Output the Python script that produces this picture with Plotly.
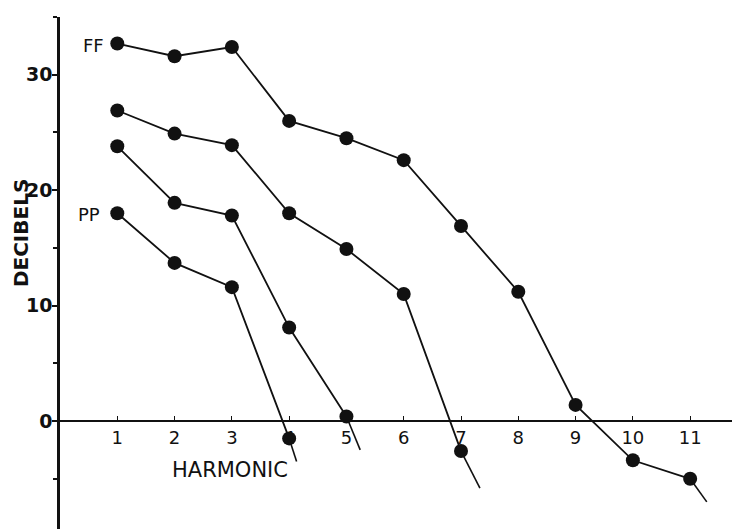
import plotly.graph_objects as go

INK = '#111111'
FONT = 'DejaVu Sans'

# harmonic numbers and decibel levels for the four dynamic levels (FF ... PP)
harmonics = [1, 2, 3, 4, 5, 6, 7, 8, 9, 10, 11]
ff_db = [32.7, 31.6, 32.4, 26.0, 24.5, 22.6, 16.9, 11.2, 1.4, -3.4, -5.0]
f_db = [26.9, 24.9, 23.9, 18.0, 14.9, 11.0, -2.6]
p_db = [23.8, 18.9, 17.8, 8.1, 0.4]
pp_db = [18.0, 13.7, 11.6, -1.5]

# short continuation strokes past the last measured harmonic
tail_x = [11.29, 7.33, 5.24, 4.13]
tail_y = [-7.0, -5.8, -2.5, -3.5]

x_ticks = harmonics
y_ticks = [0, 10, 20, 30]

series = [ff_db, f_db, p_db, pp_db]

fig = go.Figure()
for vals, tx, ty in zip(series, tail_x, tail_y):
    xs = harmonics[:len(vals)]
    fig.add_trace(go.Scatter(
        x=[xs[-1], tx], y=[vals[-1], ty], mode='lines',
        line=dict(color=INK, width=1.6), hoverinfo='skip',
    ))
    fig.add_trace(go.Scatter(
        x=xs, y=vals, mode='lines+markers',
        line=dict(color=INK, width=1.8),
        marker=dict(color=INK, size=14),
    ))

lbl = dict(size=18, color=INK, family=FONT)
fig.add_annotation(x=0.58, y=32.5, text='FF', showarrow=False, font=lbl)
fig.add_annotation(x=0.5, y=17.9, text='PP', showarrow=False, font=lbl)
fig.add_annotation(x=2.97, y=-4.2, text='HARMONIC', showarrow=False,
                   font=dict(size=21, color=INK, family=FONT))
fig.add_annotation(xref='paper', x=-0.057, xanchor='center', y=16.3,
                   text='<b>DECIBELS</b>', showarrow=False, textangle=-90,
                   font=dict(size=20, color=INK, family=FONT))

y_min, y_max = -9.35, 35
# page body keeps its default 8px margin, so the figure is 8px smaller
fig.update_layout(
    width=732, height=521,
    paper_bgcolor='white', plot_bgcolor='white',
    margin=dict(l=52, r=0, t=9, b=0, autoexpand=False),
    showlegend=False,
    font=dict(family=FONT, color=INK),
    xaxis=dict(
        range=[0, 11.87], tickvals=x_ticks, ticktext=[str(v) for v in x_ticks],
        anchor='free', position=(0 - y_min) / (y_max - y_min),
        showline=True, linecolor=INK, linewidth=2,
        ticks='inside', ticklen=4, tickcolor=INK,
        showgrid=False, zeroline=False, automargin=False,
        tickfont=dict(size=18, color=INK),
    ),
    yaxis=dict(
        range=[y_min, y_max], tickvals=y_ticks,
        showline=True, linecolor=INK, linewidth=2.5,
        ticks='outside', ticklen=5, tickcolor=INK, tickwidth=2,
        minor=dict(tickvals=[-5, 5, 15, 25, 35], ticks='outside', ticklen=4,
                   tickcolor=INK),
        showgrid=False, zeroline=False, automargin=False,
        ticklabelstandoff=-4,
        tickfont=dict(size=19, color=INK, weight='bold'),
    ),
)

fig.write_html('out.html')
